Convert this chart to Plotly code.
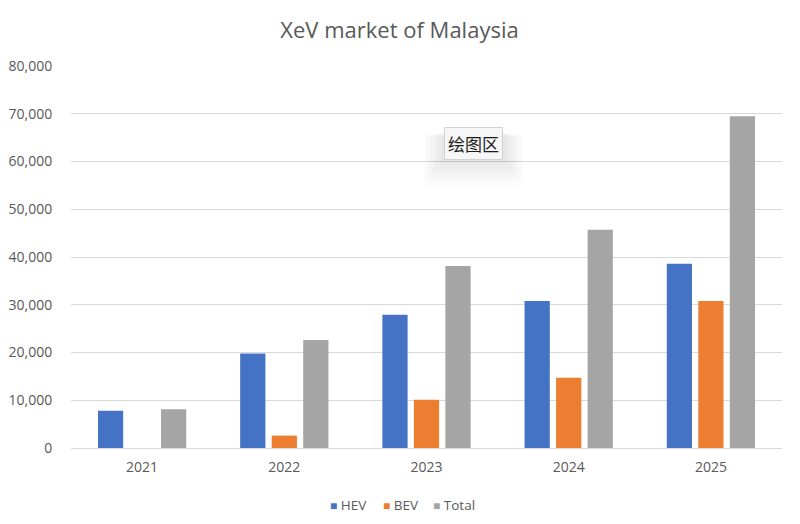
import plotly.graph_objects as go

years = ["2021", "2022", "2023", "2024", "2025"]
hev = [7800, 19800, 27900, 30800, 38600]
bev = [0, 2600, 10100, 14700, 30800]
total = [8100, 22600, 38100, 45700, 69500]
y_ticks = [0, 10000, 20000, 30000, 40000, 50000, 60000, 70000, 80000]
y_ticklabels = ["0", "10,000", "20,000", "30,000", "40,000", "50,000", "60,000", "70,000", "80,000"]
series_names = ["HEV", "BEV", "Total"]
series_colors = ["#4472C4", "#ED7D31", "#A5A5A5"]

FONT = "Open Sans"
GREY = "#595959"
W, H = 800, 524
L, R, T, B = 71, 18, 66, 76

fig = go.Figure()
for name, vals, col in zip(series_names, [hev, bev, total], series_colors):
    fig.add_trace(go.Bar(name=name, x=years, y=vals, marker_color=col,
                         marker_line_width=0, showlegend=False))

fig.update_layout(
    width=W, height=H,
    margin=dict(l=L, r=R, t=T, b=B, autoexpand=False),
    paper_bgcolor="white", plot_bgcolor="white",
    barmode="group", bargap=0.335, bargroupgap=0.2,
    title=dict(text="XeV market of Malaysia", x=(278 + 521) / 2 / W, xanchor="center",
               y=1 - 30 / H, yanchor="middle",
               font=dict(family=FONT, size=22, color=GREY)),
    font=dict(family=FONT, size=14, color=GREY),
    hovermode=False,
)
fig.update_xaxes(showgrid=False, showline=True, linecolor="#D9D9D9", linewidth=1,
                 ticks="outside", ticklen=6, tickcolor="rgba(0,0,0,0)",
                 tickfont=dict(family=FONT, size=14, color=GREY))
fig.update_yaxes(range=[0, 80000], tickvals=y_ticks, ticktext=y_ticklabels,
                 showgrid=True, gridcolor="#D9D9D9", gridwidth=1, zeroline=False,
                 showline=False, ticks="outside", ticklen=15, tickcolor="rgba(0,0,0,0)",
                 tickfont=dict(family=FONT, size=14, color=GREY))

PW, PH = W - L - R, H - T - B
def px(x):
    return (x - L) / PW
def py(y):
    return (H - B - y) / PH

# legend drawn as text with coloured squares
legend_pos = [328, 381, 431]
for name, col, xpos in zip(series_names, series_colors, legend_pos):
    fig.add_annotation(text="<span style='color:%s;font-size:12px'>■</span> %s" % (col, name),
                       xref="paper", yref="paper", x=px(xpos), y=py(505),
                       xanchor="left", yanchor="middle", showarrow=False,
                       font=dict(family=FONT, size=13.5, color=GREY))

# soft shadow behind the tooltip
for k in range(8):
    g = 1 + k * 2.5
    fig.add_shape(type="rect", xref="paper", yref="paper",
                  x0=px(442 - g), x1=px(505 + g),
                  y0=py(158 + 3 + g * 1.3), y1=py(132 + g * 0.2),
                  fillcolor="rgba(0,0,0,0.011)", line_width=0, layer="above")

fig.add_annotation(text="绘图区", xref="paper", yref="paper",
                   x=px(473.5), y=py(143.5), showarrow=False,
                   xanchor="center", yanchor="middle",
                   font=dict(family="Noto Sans CJK SC", size=17, color="#1a1a1a"),
                   bgcolor="#F6F6F6", bordercolor="#D2D2D2", borderwidth=1, borderpad=3)

fig.write_html("out.html", config={"displayModeBar": False},
               post_script="document.body.style.margin='0';")
